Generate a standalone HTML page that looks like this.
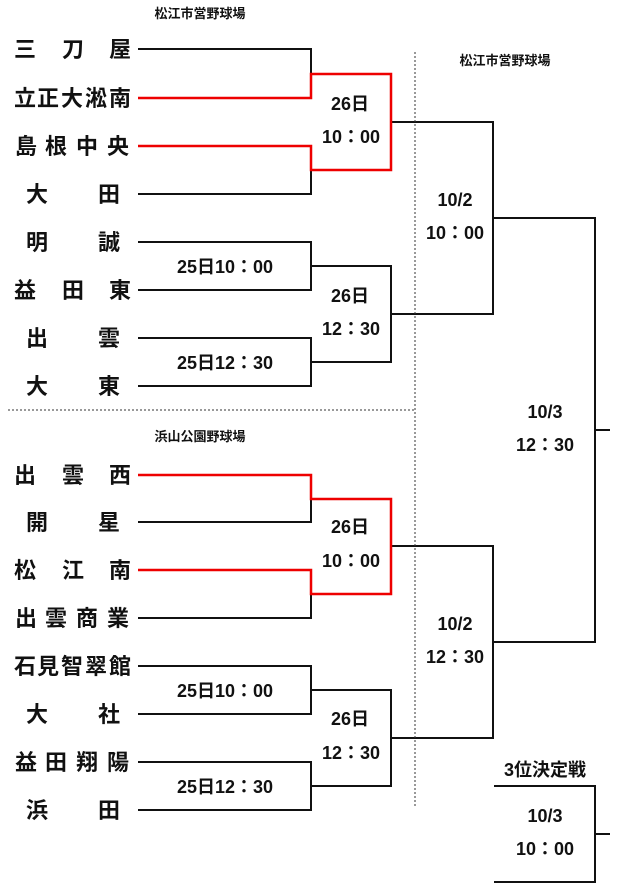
<!DOCTYPE html>
<html><head><meta charset="utf-8"><style>
html,body{margin:0;padding:0;background:#fff;}
svg{display:block;}
text{font-family:"Liberation Sans","Noto Sans CJK JP",sans-serif;font-weight:bold;fill:#111;}
.t{font-size:22px;text-anchor:middle;}
.l{font-size:18px;text-anchor:middle;}
.v{font-size:13px;text-anchor:middle;}
</style></head><body>
<svg width="623" height="893" viewBox="0 0 623 893" xmlns="http://www.w3.org/2000/svg">
<g fill="none" stroke="#111" stroke-width="2">
<!-- top half -->
<path d="M138 49H311V74"/>
<path d="M311 170V194H138"/>
<path d="M138 242H311V290H138"/>
<path d="M138 338H311V386H138"/>
<path d="M311 266H391V362H311"/>
<path d="M391 122H493V314H391"/>
<path d="M493 218H595V642H493"/>
<path d="M595 430H610"/>
<!-- bottom half -->
<path d="M138 522H311V499"/>
<path d="M311 594V618H138"/>
<path d="M138 666H311V714H138"/>
<path d="M138 762H311V810H138"/>
<path d="M311 690H391V786H311"/>
<path d="M391 546H493V738H391"/>
<!-- 3rd place -->
<path d="M494 786H595V882H494"/>
<path d="M595 834H610"/>
</g>
<g fill="none" stroke="#e00" stroke-width="2.5">
<path d="M138 98H311V74H391V170H311V146H138"/>
<path d="M138 475H311V499H391V594H311V570H138"/>
</g>
<g stroke="#333" stroke-width="1" stroke-dasharray="2,2">
<path d="M415 52V808"/>
<path d="M8 410H415"/>
</g>
<text class="v" x="200" y="18">松江市営野球場</text>
<text class="v" x="505" y="65">松江市営野球場</text>
<text class="v" x="200" y="441">浜山公園野球場</text>
<g class="t">
<text x="25" y="57">三</text><text x="73" y="57">刀</text><text x="120" y="57">屋</text>
<text x="25" y="106">立</text><text x="48" y="106">正</text><text x="72" y="106">大</text><text x="96" y="106">淞</text><text x="120" y="106">南</text>
<text x="26" y="154">島</text><text x="56" y="154">根</text><text x="87" y="154">中</text><text x="118" y="154">央</text>
<text x="37" y="202">大</text><text x="109" y="202">田</text>
<text x="37" y="250">明</text><text x="109" y="250">誠</text>
<text x="25" y="298">益</text><text x="73" y="298">田</text><text x="120" y="298">東</text>
<text x="37" y="346">出</text><text x="109" y="346">雲</text>
<text x="37" y="394">大</text><text x="109" y="394">東</text>
<text x="25" y="483">出</text><text x="73" y="483">雲</text><text x="120" y="483">西</text>
<text x="37" y="530">開</text><text x="109" y="530">星</text>
<text x="25" y="578">松</text><text x="73" y="578">江</text><text x="120" y="578">南</text>
<text x="26" y="626">出</text><text x="56" y="626">雲</text><text x="87" y="626">商</text><text x="118" y="626">業</text>
<text x="25" y="674">石</text><text x="48" y="674">見</text><text x="72" y="674">智</text><text x="96" y="674">翠</text><text x="120" y="674">館</text>
<text x="37" y="722">大</text><text x="109" y="722">社</text>
<text x="26" y="770">益</text><text x="56" y="770">田</text><text x="87" y="770">翔</text><text x="118" y="770">陽</text>
<text x="37" y="818">浜</text><text x="109" y="818">田</text>
</g>
<g class="l">
<text x="350" y="110">26日</text><text x="351" y="143">10：00</text>
<text x="350" y="302">26日</text><text x="351" y="335">12：30</text>
<text x="225" y="273">25日10：00</text>
<text x="225" y="369">25日12：30</text>
<text x="455" y="206">10/2</text><text x="455" y="239">10：00</text>
<text x="545" y="418">10/3</text><text x="545" y="451">12：30</text>
<text x="350" y="533">26日</text><text x="351" y="567">10：00</text>
<text x="350" y="725">26日</text><text x="351" y="759">12：30</text>
<text x="225" y="697">25日10：00</text>
<text x="225" y="793">25日12：30</text>
<text x="455" y="630">10/2</text><text x="455" y="663">12：30</text>
<text x="545" y="776">3位決定戦</text>
<text x="545" y="822">10/3</text><text x="545" y="855">10：00</text>
</g>
</svg>
</body></html>
